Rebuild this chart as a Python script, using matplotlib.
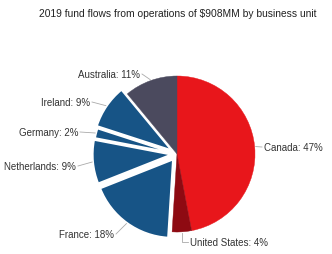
import matplotlib
matplotlib.use("Agg")
import matplotlib.pyplot as plt
import numpy as np

units = ["Canada", "United States", "France", "Netherlands", "Germany", "Ireland", "Australia"]
shares = [47, 4, 18, 9, 2, 9, 11]
colors = ["#E8161B", "#8E0A12", "#175486", "#175486", "#175486", "#175486", "#4B4A5E"]
explode = [0, 0, 0.09, 0.08, 0.07, 0.09, 0]
title = "2019 fund flows from operations of $908MM by business unit"

# label text anchor positions (pixel space, y up), alignment, elbow leader?
label_pos = [(264, 107, "left", False), (190, 12, "left", True), (114, 20, "right", False),
             (76, 88, "right", False), (78, 122, "right", False), (90, 152, "right", False),
             (140, 180, "right", False)]

plt.rcParams['font.family'] = ['Liberation Sans', 'DejaVu Sans']

fig = plt.figure(figsize=(3.32, 2.55), dpi=100)
ax = fig.add_axes([0, 0, 1, 1])

cx, cy, r = 177, 100, 78
wedges, _ = ax.pie(shares, colors=colors, startangle=90, counterclock=False,
                   explode=[e * r for e in explode], center=(cx, cy), radius=r,
                   wedgeprops=dict(edgecolor="white", linewidth=1.2))
for w, c in zip(wedges, colors):
    if c != "#175486":
        w.set_edgecolor(c)
        w.set_linewidth(0.3)

ax.set_xlim(0, 332)
ax.set_ylim(0, 255)
ax.set_aspect('equal')
ax.axis('off')

total = sum(shares)
cum = 0
for i, (u, s) in enumerate(zip(units, shares)):
    mid = cum + s / 2
    cum += s
    ang = np.deg2rad(90 - 360 * mid / total)
    rr = r * (1 + explode[i]) + 1
    ex, ey = cx + rr * np.cos(ang), cy + rr * np.sin(ang)
    tx, ty, ha, elbow = label_pos[i]
    lx = tx - 2 if ha == "left" else tx + 2
    if elbow:
        ax.plot([ex, ex, lx], [ey, ty, ty], color="#AAAAAA", lw=0.6)
    else:
        ax.plot([ex, lx], [ey, ty], color="#AAAAAA", lw=0.6)
    ax.text(tx, ty, f"{u}: {s}%", ha=ha, va="center", fontsize=7, color="#333333")

fig.text(0.535, 0.945, title, ha="center", va="center", fontsize=7.4, color="#222222")

fig.savefig("out.png", dpi=100)
